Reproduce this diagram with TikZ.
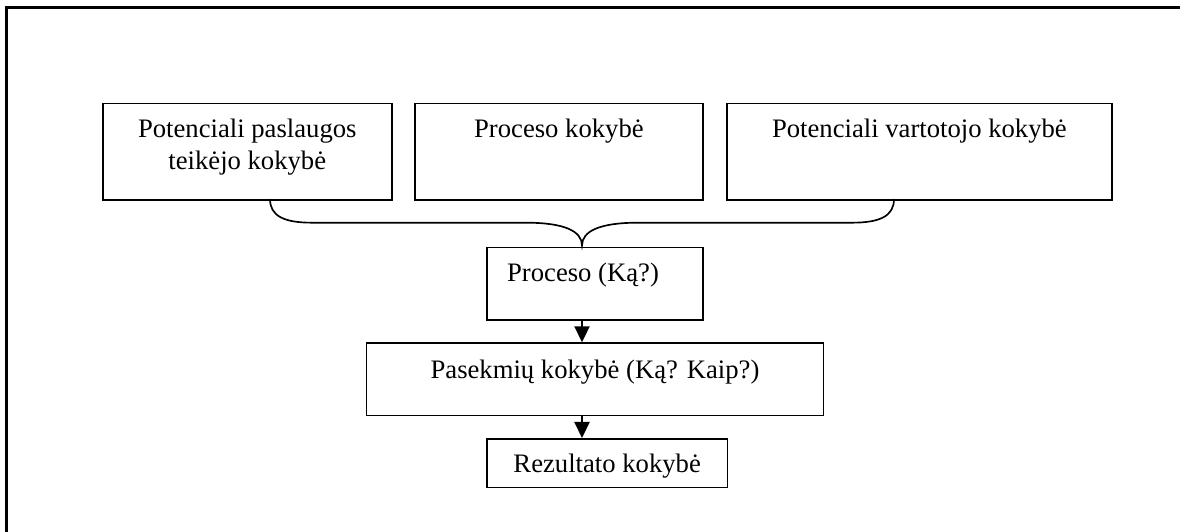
\documentclass[tikz,border=0pt]{standalone}
\usepackage{fontspec}
\setmainfont{Liberation Serif}
\usetikzlibrary{arrows.meta, positioning, calc}

\tikzset{
  qbox/.style={draw, line width=0.75pt, inner sep=0pt, anchor=north west},
  qtxt/.style={font=\fontsize{12pt}{14.7pt}\selectfont, inner sep=0pt, anchor=base, align=center},
  qarr/.style={-{Triangle[width=6.8pt,length=7.2pt]}, line width=0.75pt},
  qbrace/.style={line width=0.75pt},
  qframe/.style={line width=1.3pt}
}

\begin{document}
\begin{tikzpicture}[x=0.45pt, y=-0.45pt]
\useasboundingbox (0,0) rectangle (1180,532);

% page frame, cut off at right and bottom
\draw[qframe] (1180,7.3) -| (6.7,532);

% top row of boxes
\node[qbox, minimum width=130pt, minimum height=43.3pt] (teik) at (102,102.7) {};
\node[qbox, minimum width=129.7pt, minimum height=43.3pt] (proc) at (414,102.7) {};
\node[qbox, minimum width=173.3pt, minimum height=43.3pt] (vart) at (726,102.7) {};

\node[qtxt] (teik-t) at ([yshift=-30.2pt]teik.north) {Potenciali paslaugos\\teikėjo kokybė};
\node[qtxt] (proc-t) at ([yshift=-15.5pt]proc.north) {Proceso kokybė};
\node[qtxt] (vart-t) at ([yshift=-15.5pt]vart.north) {Potenciali vartotojo kokybė};

% brace joining the three
\coordinate (bl) at (270,199);
\coordinate (br) at (894,199);
\coordinate (tip) at (582,245.5);
\draw[qbrace] (bl) .. controls (270,216) and (284,222.7) .. (312,222.7) -- (526,222.7)
  .. controls (564,222.7) and (582,231) .. (tip)
  .. controls (582,231) and (600,222.7) .. (638,222.7) -- (852,222.7)
  .. controls (880,222.7) and (894,216) .. (br);

% lower chain
\node[qbox, minimum width=97.3pt, minimum height=32.5pt] (kas) at (486,246.7) {};
\node[qbox, minimum width=205.6pt, minimum height=32.5pt] (pase) at (365.7,342.3) {};
\node[qbox, minimum width=108.3pt, minimum height=21.9pt] (rez) at (486,438) {};

\node[qtxt, anchor=base west] (kas-t) at ([xshift=9.3pt, yshift=-15.7pt]kas.north west) {Proceso (Ką?)};
\node[qtxt] (pase-t) at ([yshift=-16.2pt]pase.north) {Pasekmių kokybė (Ką? Kaip?)};
\node[qtxt] (rez-t) at ([yshift=-15.6pt]rez.north) {Rezultato kokybė};

\draw[qarr] (tip |- kas.south) -- (tip |- pase.north);
\draw[qarr] (tip |- pase.south) -- (tip |- rez.north);

\end{tikzpicture}
\end{document}
